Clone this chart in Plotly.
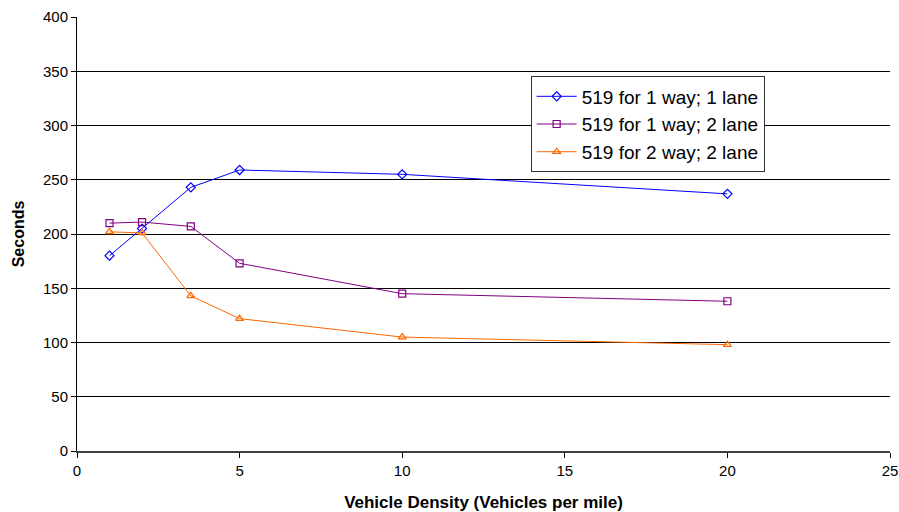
import plotly.graph_objects as go

# Vehicle density (vehicles per mile)
density = [1, 2, 3.5, 5, 10, 20]

# Travel time in seconds for each road configuration
one_way_one_lane = [180, 205, 243, 259, 255, 237]
one_way_two_lane = [210, 211, 207, 173, 145, 138]
two_way_two_lane = [202, 201, 143, 122, 105, 98]

series_names = ["519 for 1 way; 1 lane", "519 for 1 way; 2 lane", "519 for 2 way; 2 lane"]
series_colors = ["#0000FF", "#800080", "#FF6600"]
series_symbols = ["diamond-open", "square-open", "triangle-up-open"]
series_values = [one_way_one_lane, one_way_two_lane, two_way_two_lane]

fig = go.Figure()
for name, vals, color, sym in zip(series_names, series_values, series_colors, series_symbols):
    fig.add_trace(go.Scatter(
        x=density, y=vals, name=name, mode="lines+markers",
        line=dict(color=color, width=1),
        marker=dict(symbol=sym, size=7, color=color, line=dict(width=1.2, color=color)),
    ))

font_family = "Liberation Sans, Arial, sans-serif"

fig.update_layout(
    width=899, height=512,
    margin=dict(l=77, r=9, t=17, b=61),
    paper_bgcolor="white", plot_bgcolor="white",
    font=dict(family=font_family, color="black", size=15),
    showlegend=True,
    legend=dict(
        x=0.558, y=0.863, xanchor="left", yanchor="top",
        bordercolor="#333333", borderwidth=1, bgcolor="white",
        font=dict(size=19, family=font_family),
        itemwidth=40, tracegroupgap=2,
    ),
    xaxis=dict(
        range=[0, 25], tickvals=[0, 5, 10, 15, 20, 25],
        showgrid=False, zeroline=False, automargin=False,
        showline=True, linecolor="#404040", linewidth=2,
        ticks="outside", ticklen=5, tickcolor="black",
        tickfont=dict(size=15),
        title=dict(text="<b>Vehicle Density (Vehicles per mile)</b>", font=dict(size=17), standoff=20),
    ),
    yaxis=dict(
        range=[0, 400], tickvals=list(range(0, 401, 50)),
        showgrid=True, gridcolor="black", gridwidth=1,
        zeroline=False, automargin=False,
        showline=True, linecolor="black", linewidth=1,
        ticks="outside", ticklen=5, tickcolor="black",
        tickfont=dict(size=15),
        title=dict(text="<b>Seconds</b>", font=dict(size=16), standoff=14),
    ),
)

fig.write_html("out.html")
